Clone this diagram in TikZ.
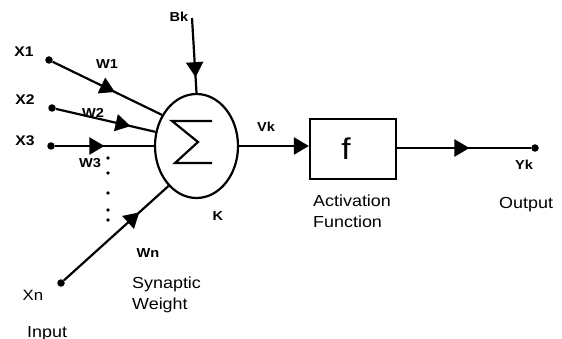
\documentclass[tikz,border=0pt]{standalone}
\usepackage{fontspec}
\setmainfont{Liberation Sans}[FakeStretch=1.12]
\usetikzlibrary{shapes.geometric,arrows.meta,decorations.markings}
\tikzset{
  conn/.style={line width=2.2pt},
  midarrow/.style={postaction={decorate},decoration={markings,mark=at position #1 with {\arrow{Triangle[length=15pt,width=17pt]}}}},
  indot/.style={circle,fill=black,inner sep=0pt,minimum size=7.5pt},
  smalldot/.style={circle,fill=black,inner sep=0pt,minimum size=3.8pt},
  lab/.style={anchor=base,inner sep=0pt,font=\fontsize{13}{15}\selectfont\bfseries},
  xlab/.style={anchor=base,inner sep=0pt,font=\fontsize{14}{16}\selectfont\bfseries},
  txt/.style={anchor=base west,inner sep=0pt,font=\fontsize{16}{19}\selectfont},
}
\begin{document}
\begin{tikzpicture}[x=1pt,y=-1pt]
\useasboundingbox (0,0) rectangle (562,339);
% summing junction
\node[ellipse,draw,line width=2.2pt,minimum width=83pt,minimum height=104pt,inner sep=0pt] (sum) at (196.5,146) {};
\draw[line width=2.2pt,line join=miter] (212,121) -- (172,121) -- (198,142) -- (175,163) -- (212,163);
% activation box
\node[draw,line width=2.2pt,minimum width=86pt,minimum height=60pt,inner sep=0pt] (f) at (353,149) {};
\node[inner sep=0pt,font=\fontsize{30}{32}\selectfont] (ftxt) at (346,149) {f};
% inputs
\node[indot] (x1) at (49,60) {};
\node[indot] (x2) at (52,108) {};
\node[indot] (x3) at (51,146) {};
\node[indot] (xn) at (61,283) {};
\node[indot] (out) at (535,148) {};
\coordinate (bk) at (192,18);
% connectors
\draw[conn,midarrow=0.57] (x1) -- (sum.138);
\draw[conn,midarrow=0.75] (x2) -- (sum.161);
\draw[conn,midarrow=0.50] (x3) -- (sum.180);
\draw[conn,midarrow=0.72] (xn) -- (sum.235);
\draw[conn,midarrow=0.79] (bk) -- (sum.90);
\draw[conn,-{Triangle[length=15pt,width=17pt]}] (sum.0) -- (f.west |- sum.0);
\draw[conn,midarrow=0.54] (f.east |- out) -- (out);
% dotted continuation
\node[smalldot] (d1) at (108,158) {};
\node[smalldot] (d2) at (108,173) {};
\node[smalldot] (d3) at (108,193) {};
\node[smalldot] (d4) at (108,210) {};
\node[smalldot] (d5) at (108,220) {};
% labels
\node[lab] (lbk) at (179,22) {Bk};
\node[xlab] (lx1) at (24,57) {X1};
\node[xlab] (lx2) at (25,105) {X2};
\node[xlab] (lx3) at (25,146) {X3};
\node[lab] (lw1) at (107,69) {W1};
\node[lab] (lw2) at (93,118) {W2};
\node[lab] (lw3) at (90,168) {W3};
\node[lab] (lvk) at (266,132) {Vk};
\node[lab] (lk) at (218,220) {K};
\node[lab] (lwn) at (148,257) {Wn};
\node[lab] (lyk) at (524,170) {Yk};
\node[anchor=base,inner sep=0pt,font=\fontsize{15}{17}\selectfont] (lxn) at (33,300) {Xn};
\node[txt] (lsyn) at (132,288) {Synaptic};
\node[txt] (lwei) at (132,309) {Weight};
\node[txt] (linp) at (27,337) {Input};
\node[txt] (lact) at (313,207) {Activation};
\node[txt] (lfun) at (313,228) {Function};
\node[txt] (lout) at (499,209) {Output};
\end{tikzpicture}
\end{document}
